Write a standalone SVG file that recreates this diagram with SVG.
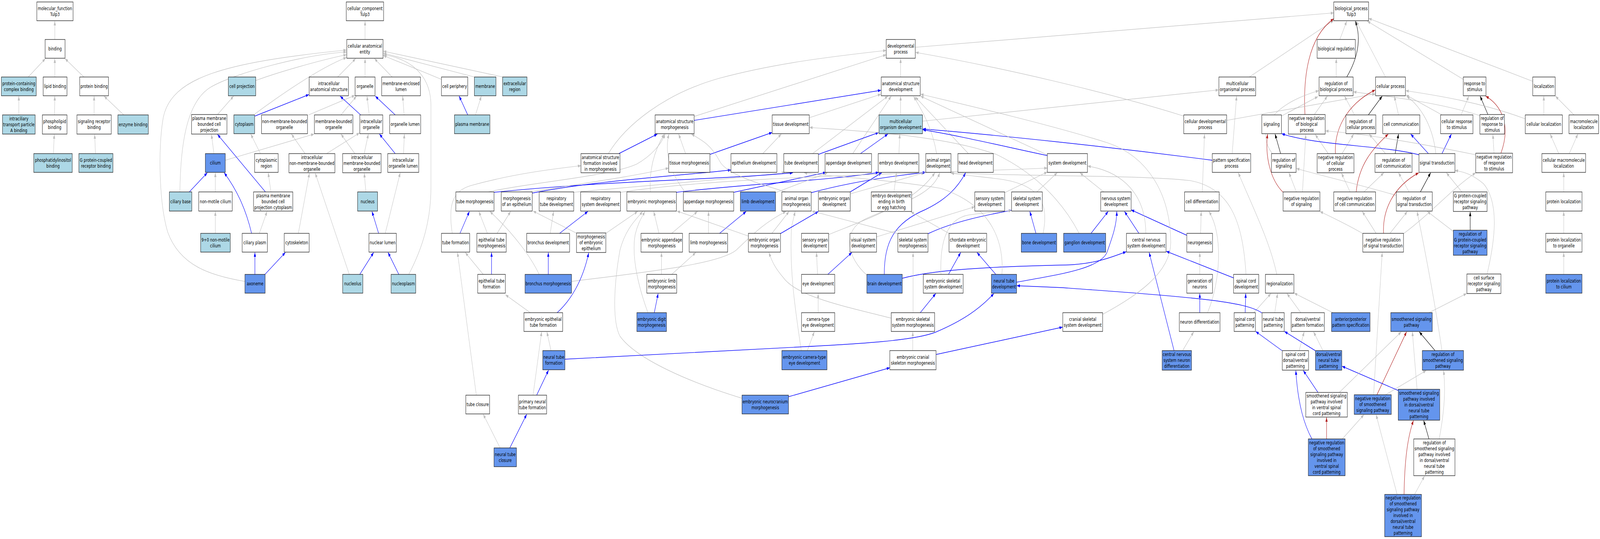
<svg xmlns="http://www.w3.org/2000/svg" width="5781" height="1379" viewBox="0 0 5781 1379" preserveAspectRatio="none">
<style>
svg{width:100vw;height:100vh;display:block}
.n rect{stroke:#1a1a1a;stroke-width:1.3}
.w{fill:#ffffff}.lb{fill:#add8e6}.cb{fill:#6495ed}
text{font-family:"DejaVu Sans","Liberation Sans",sans-serif;font-size:13px;text-anchor:middle;fill:#000}
#edges path{fill:none;stroke-width:1.2}
#edges .g{stroke:#bebebe;marker-end:url(#ag)}
#edges .b{stroke:#0000ff;stroke-width:1.4;marker-end:url(#ab)}
#edges .r{stroke:#b22222;stroke-width:1.4;marker-end:url(#ar)}
#edges .k{stroke:#000000;stroke-width:1.4;marker-end:url(#ak)}
</style>
<defs>
<marker id="ag" viewBox="0 0 11 8" refX="11" refY="4" markerWidth="11" markerHeight="8" markerUnits="userSpaceOnUse" orient="auto"><path d="M0,0L11,4L0,8z" fill="#bebebe"/></marker>
<marker id="ab" viewBox="0 0 11 8" refX="11" refY="4" markerWidth="11" markerHeight="8" markerUnits="userSpaceOnUse" orient="auto"><path d="M0,0L11,4L0,8z" fill="#0000ff"/></marker>
<marker id="ar" viewBox="0 0 11 8" refX="11" refY="4" markerWidth="11" markerHeight="8" markerUnits="userSpaceOnUse" orient="auto"><path d="M0,0L11,4L0,8z" fill="#b22222"/></marker>
<marker id="ak" viewBox="0 0 11 8" refX="11" refY="4" markerWidth="11" markerHeight="8" markerUnits="userSpaceOnUse" orient="auto"><path d="M0,0L11,4L0,8z" fill="#000000"/></marker>
</defs>
<rect x="0" y="0" width="5781" height="1379" fill="#ffffff"/>
<g id="edges">
<path class="g" d="M198,101 L198,54"/>
<path class="g" d="M102,197 L164,150"/>
<path class="g" d="M198,197 L198,150"/>
<path class="g" d="M303,197 L235,150"/>
<path class="g" d="M68,294 L68,246"/>
<path class="g" d="M197,294 L198,246"/>
<path class="g" d="M193,393 L196,344"/>
<path class="g" d="M340,294 L340,246"/>
<path class="g" d="M447,294 L376,246"/>
<path class="g" d="M345,393 L342,344"/>
<path class="g" d="M1319,101 L1319,54"/>
<path class="g" d="M1220,197 L1285,150"/>
<path class="g" d="M1319,197 L1319,150"/>
<path class="g" d="M1417,197 L1353,150"/>
<path class="g" d="M1595,203 L1385,142"/>
<path class="g" d="M1714,197 L1385,136"/>
<path class="g" d="M1817,197 L1385,131"/>
<path class="g" d="M924,206 C1000,186 1150,155 1252,140"/>
<path class="g" d="M920,292 C1000,250 1150,175 1252,147"/>
<path class="b" d="M921,297 L1116,242"/>
<path class="g" d="M650,491 C652,380 670,262 761,223 C850,186 1100,140 1252,133"/>
<path class="g" d="M885,720 C760,705 650,680 606,594 C575,520 570,380 590,300 C620,200 800,160 1252,128"/>
<path class="g" d="M1477,702 C1530,630 1557,560 1557,480 L1557,270 C1557,190 1480,150 1386,140"/>
<path class="g" d="M1115,294 L1282,244"/>
<path class="g" d="M1232,294 L1288,246"/>
<path class="g" d="M1334,294 L1326,246"/>
<path class="b" d="M1303,294 L1229,246"/>
<path class="b" d="M1428,294 L1356,246"/>
<path class="g" d="M1460,294 L1455,246"/>
<path class="b" d="M1690,294 L1659,246"/>
<path class="g" d="M1718,294 L1739,246"/>
<path class="g" d="M786,293 L844,246"/>
<path class="g" d="M773,393 L764,344"/>
<path class="g" d="M814,410 L1135,343"/>
<path class="g" d="M941,393 L906,343"/>
<path class="g" d="M1102,393 L1053,343"/>
<path class="g" d="M1180,393 L1299,340"/>
<path class="g" d="M1282,393 L1232,343"/>
<path class="g" d="M1316,393 L1331,343"/>
<path class="b" d="M1428,393 L1371,343"/>
<path class="g" d="M1458,393 L1461,343"/>
<path class="b" d="M684,491 L749,442"/>
<path class="g" d="M778,491 L778,442"/>
<path class="b" d="M959,491 L786,344"/>
<path class="g" d="M979,491 L969,442"/>
<path class="g" d="M1322,491 L1316,443"/>
<path class="g" d="M778,597 L778,541"/>
<path class="b" d="M909,597 C890,540 860,490 810,442"/>
<path class="g" d="M937,597 L965,541"/>
<path class="g" d="M1078,597 L1118,443"/>
<path class="b" d="M1368,597 L1344,541"/>
<path class="g" d="M1392,597 L1446,442"/>
<path class="b" d="M921,702 L921,646"/>
<path class="b" d="M956,703 L1031,646"/>
<path class="g" d="M1262,702 L1139,443"/>
<path class="b" d="M1300,702 L1350,646"/>
<path class="b" d="M1441,702 L1402,646"/>
<path class="g" d="M3307,121 L4819,33"/>
<path class="g" d="M4841,101 L4866,54"/>
<path class="g" d="M4514,197 L4819,52"/>
<path class="k" d="M4866,197 C4905,150 4920,100 4897,54"/>
<path class="g" d="M5006,197 L4900,54"/>
<path class="g" d="M5287,203 L4940,54"/>
<path class="g" d="M5538,208 L4945,47"/>
<path class="r" d="M4715,293 C4708,200 4725,95 4819,48"/>
<path class="g" d="M4828,197 L4828,150"/>
<path class="g" d="M4749,293 L4796,246"/>
<path class="g" d="M4630,297 L4762,247"/>
<path class="g" d="M4597,393 C4540,340 4580,270 4765,232"/>
<path class="g" d="M4894,294 L4858,246"/>
<path class="k" d="M4944,294 L4994,246"/>
<path class="g" d="M5348,296 C5200,262 5000,245 4890,235"/>
<path class="g" d="M5053,294 L5038,246"/>
<path class="g" d="M5210,294 L5080,243"/>
<path class="g" d="M5279,294 L5307,246"/>
<path class="k" d="M5376,293 L5348,246"/>
<path class="g" d="M5578,294 L5578,246"/>
<path class="g" d="M5511,304 C5350,262 5200,245 5079,232"/>
<path class="g" d="M5687,294 L5620,246"/>
<path class="g" d="M4432,308 L4969,240"/>
<path class="g" d="M4277,297 C4000,235 3600,170 3308,134"/>
<path class="g" d="M4849,393 L4891,343"/>
<path class="r" d="M4825,393 C4820,320 4880,262 4969,230"/>
<path class="g" d="M4799,393 L4752,344"/>
<path class="g" d="M5006,393 L4947,343"/>
<path class="k" d="M5041,393 L5053,343"/>
<path class="b" d="M5161,393 L5097,343"/>
<path class="b" d="M5210,393 L5244,343"/>
<path class="g" d="M5188,393 C5175,310 5120,265 5082,246"/>
<path class="b" d="M5127,396 C5000,372 4750,372 4631,342"/>
<path class="g" d="M5398,392 L5394,344"/>
<path class="r" d="M5423,392 C5460,320 5425,270 5368,246"/>
<path class="g" d="M5332,396 C5100,362 4900,340 4789,335"/>
<path class="g" d="M5632,393 L5601,343"/>
<path class="g" d="M5670,393 L5701,343"/>
<path class="k" d="M4627,393 L4607,343"/>
<path class="r" d="M4636,492 C4590,460 4570,400 4580,343"/>
<path class="g" d="M4684,491 L4657,442"/>
<path class="g" d="M4706,491 L4718,344"/>
<path class="g" d="M4928,491 L5000,442"/>
<path class="r" d="M4900,491 C4910,420 4960,380 5016,343"/>
<path class="g" d="M4878,491 L4847,443"/>
<path class="g" d="M5045,500 C4900,470 4750,445 4684,431"/>
<path class="g" d="M5091,491 L5053,442"/>
<path class="k" d="M5132,491 L5169,442"/>
<path class="g" d="M5282,491 L5226,442"/>
<path class="g" d="M4972,597 L4922,541"/>
<path class="g" d="M5022,597 L5085,541"/>
<path class="r" d="M4999,597 C4995,540 5030,480 5126,442"/>
<path class="g" d="M5071,598 C5180,540 5250,480 5332,442"/>
<path class="g" d="M4925,598 C4870,575 4810,555 4769,541"/>
<path class="k" d="M5312,589 L5312,542"/>
<path class="g" d="M5251,592 L5157,541"/>
<path class="g" d="M5650,491 L5650,442"/>
<path class="g" d="M5650,597 L5650,541"/>
<path class="g" d="M5650,702 L5650,646"/>
<path class="g" d="M5210,897 C5190,800 5160,680 5120,541"/>
<path class="g" d="M5373,701 C5400,620 5420,520 5360,470 C5320,446 5290,440 5257,436"/>
<path class="g" d="M4963,1010 L4994,646"/>
<path class="g" d="M5163,800 L5299,751"/>
<path class="k" d="M5185,897 L5128,849"/>
<path class="r" d="M4975,1010 L5082,849"/>
<path class="g" d="M5006,1010 L5153,948"/>
<path class="g" d="M5120,996 L5103,849"/>
<path class="b" d="M5052,999 L4849,937"/>
<path class="k" d="M5163,1123 L5144,1076"/>
<path class="g" d="M5200,1123 C5222,1040 5222,990 5216,948"/>
<path class="r" d="M5073,1265 C5075,1180 5085,1120 5107,1076"/>
<path class="g" d="M5111,1265 L5147,1218"/>
<path class="g" d="M5048,1265 L4972,1061"/>
<path class="g" d="M4839,1004 L5063,849"/>
<path class="b" d="M4762,1004 L4709,948"/>
<path class="r" d="M4793,1123 L4793,1068"/>
<path class="g" d="M4850,1123 L4928,1061"/>
<path class="b" d="M4740,1123 C4715,1090 4690,1040 4682,948"/>
<path class="g" d="M3333,310 L4403,230"/>
<path class="b" d="M4380,410 C4000,375 3600,345 3334,330"/>
<path class="g" d="M4452,393 L4468,246"/>
<path class="g" d="M4613,702 C4590,620 4520,520 4474,442"/>
<path class="g" d="M4344,491 L4352,343"/>
<path class="g" d="M3988,491 L3902,442"/>
<path class="b" d="M3942,597 L4004,541"/>
<path class="b" d="M4115,597 L4063,541"/>
<path class="b" d="M4288,602 L4087,537"/>
<path class="b" d="M3673,722 C3800,705 3975,690 4000,645 C4020,605 4035,575 4035,541"/>
<path class="b" d="M3260,712 C3350,695 3500,683 3850,678 C3950,676 4010,660 4069,644"/>
<path class="g" d="M4140,597 C4140,500 4060,440 3930,425"/>
<path class="g" d="M4338,597 L4340,541"/>
<path class="g" d="M4363,800 C4410,720 4420,600 4368,541"/>
<path class="g" d="M4335,702 L4335,646"/>
<path class="b" d="M4335,800 L4335,751"/>
<path class="b" d="M4457,711 L4214,643"/>
<path class="g" d="M4502,702 C4490,560 4440,480 4300,462 C4100,447 3700,452 3433,442"/>
<path class="g" d="M4273,897 L4313,849"/>
<path class="b" d="M4242,897 L4152,646"/>
<path class="b" d="M4499,800 L4501,751"/>
<path class="g" d="M4530,800 L4592,751"/>
<path class="g" d="M4606,800 L4616,751"/>
<path class="b" d="M4560,801 C4500,770 4300,760 3840,736 L3674,731"/>
<path class="g" d="M4700,800 L4650,751"/>
<path class="g" d="M4816,800 L4676,750"/>
<path class="b" d="M4632,897 L4537,848"/>
<path class="g" d="M4694,897 L4712,849"/>
<path class="b" d="M4752,897 L4641,848"/>
<path class="g" d="M4780,897 L4746,849"/>
<path class="b" d="M3382,907 L3839,837"/>
<path class="g" d="M3982,805 C4100,760 4230,700 4230,620 C4230,500 4150,400 4000,365 C3800,320 3500,270 3326,241"/>
<path class="g" d="M3254,197 L3254,150"/>
<path class="g" d="M2508,298 L3202,140"/>
<path class="g" d="M2198,393 C2260,320 2400,240 2600,200 C2800,162 3000,145 3202,129"/>
<path class="b" d="M2508,308 L3183,231"/>
<path class="g" d="M2925,301 L3183,241"/>
<path class="g" d="M2936,393 L3208,246"/>
<path class="g" d="M3081,393 L3220,246"/>
<path class="g" d="M3254,294 L3254,246"/>
<path class="g" d="M3384,393 C3370,330 3330,280 3301,247"/>
<path class="g" d="M3499,393 L3307,248"/>
<path class="g" d="M3783,396 L3326,246"/>
<path class="b" d="M2957,395 L3175,339"/>
<path class="b" d="M3109,393 L3208,343"/>
<path class="g" d="M3248,393 L3251,343"/>
<path class="b" d="M3784,398 C3600,370 3450,345 3334,332"/>
<path class="g" d="M3899,597 C3850,530 3760,450 3600,395 C3400,345 3100,335 2925,326"/>
<path class="b" d="M3072,491 L3186,442"/>
<path class="g" d="M3072,496 L3340,442"/>
<path class="b" d="M2931,493 C3050,470 3200,452 3345,441"/>
<path class="b" d="M2444,492 C2700,470 3000,462 3175,441"/>
<path class="b" d="M2651,492 C2800,470 2900,455 2985,441"/>
<path class="g" d="M2802,493 L2990,442"/>
<path class="g" d="M3230,491 L3239,442"/>
<path class="g" d="M2995,600 C3150,555 3300,520 3378,442"/>
<path class="g" d="M3630,493 L3784,440"/>
<path class="g" d="M3746,491 L3820,442"/>
<path class="g" d="M2242,492 C2600,452 3300,445 3784,430"/>
<path class="b" d="M3195,702 C3195,620 3230,570 3344,536 C3420,510 3460,480 3489,442"/>
<path class="g" d="M3134,705 C3060,660 3040,590 3127,560 C3250,520 3370,500 3395,442"/>
<path class="g" d="M3167,606 L3522,529"/>
<path class="b" d="M3353,598 C3450,565 3580,548 3655,538"/>
<path class="b" d="M3743,597 L3721,541"/>
<path class="g" d="M3769,597 C3790,520 3760,470 3600,457 C3530,451 3480,448 3436,443"/>
<path class="g" d="M3431,598 L3291,542"/>
<path class="b" d="M3427,702 L3471,646"/>
<path class="b" d="M3598,702 L3530,646"/>
<path class="g" d="M3400,702 C3395,620 3420,560 3500,550 C3560,544 3610,541 3655,539"/>
<path class="g" d="M3620,702 C3630,600 3560,520 3400,482 C3200,458 3000,452 2905,442"/>
<path class="g" d="M2954,702 L2950,646"/>
<path class="b" d="M2991,702 L3078,646"/>
<path class="g" d="M2956,800 L2956,751"/>
<path class="g" d="M2917,897 L2942,849"/>
<path class="g" d="M2895,897 C2880,820 2850,700 2860,580 L2873,541"/>
<path class="b" d="M3325,800 L3381,751"/>
<path class="g" d="M3299,800 L3299,646"/>
<path class="g" d="M3220,814 C3060,785 2880,760 2830,710 C2800,685 2790,670 2778,646"/>
<path class="g" d="M3298,897 L3298,849"/>
<path class="b" d="M2849,1015 L3215,941"/>
<path class="g" d="M2681,1019 C2500,980 2300,920 2240,860 C2210,820 2220,720 2240,640 C2260,585 2300,560 2322,541"/>
<path class="b" d="M2364,800 L2378,751"/>
<path class="g" d="M2341,800 C2310,740 2280,660 2295,600 C2305,570 2320,555 2330,541"/>
<path class="g" d="M2390,702 L2390,646"/>
<path class="g" d="M2427,702 L2514,646"/>
<path class="g" d="M2065,720 C2350,695 2600,675 2660,640 C2720,600 2760,570 2840,541"/>
<path class="g" d="M1948,702 C1920,660 1860,600 1770,541"/>
<path class="b" d="M1981,702 L1981,646"/>
<path class="g" d="M2084,597 L1926,540"/>
<path class="g" d="M2189,597 L2304,541"/>
<path class="g" d="M2427,597 L2520,541"/>
<path class="g" d="M2381,597 L2362,541"/>
<path class="g" d="M2560,597 L2560,541"/>
<path class="b" d="M2600,597 L2696,541"/>
<path class="g" d="M2789,597 L2851,541"/>
<path class="g" d="M2704,604 L2446,540"/>
<path class="b" d="M2819,598 L2957,541"/>
<path class="g" d="M3245,598 L2933,540"/>
<path class="g" d="M2073,492 C2400,470 2700,455 2836,441"/>
<path class="b" d="M1785,492 C2200,462 2600,460 2865,442"/>
<path class="g" d="M1765,491 C1900,468 2200,452 2300,420 C2350,400 2390,370 2403,343"/>
<path class="g" d="M1915,491 C2100,470 2300,450 2416,430"/>
<path class="b" d="M1923,494 C2150,462 2450,450 2641,435"/>
<path class="g" d="M2477,393 L2452,343"/>
<path class="b" d="M2565,395 L2790,339"/>
<path class="g" d="M2756,393 L2823,343"/>
<path class="b" d="M2236,393 L2375,343"/>
<path class="g" d="M2350,491 C2345,440 2360,390 2400,343"/>
<path class="g" d="M2475,491 C2420,440 2400,390 2417,343"/>
<path class="g" d="M2840,491 C2700,462 2620,440 2600,412 C2570,372 2540,360 2498,343"/>
<path class="b" d="M1662,597 L1696,541"/>
<path class="g" d="M1634,597 C1620,530 1630,490 1700,475 C1850,445 2000,432 2099,424"/>
<path class="g" d="M1761,597 L1730,541"/>
<path class="g" d="M1796,597 L1845,541"/>
<path class="g" d="M1988,597 L2000,541"/>
<path class="b" d="M2022,597 L2124,541"/>
<path class="g" d="M1746,702 L1681,646"/>
<path class="b" d="M1776,702 L1776,646"/>
<path class="g" d="M1721,1011 L1653,646"/>
<path class="g" d="M1916,800 L1826,754"/>
<path class="b" d="M2013,800 C2060,770 2105,720 2127,647"/>
<path class="g" d="M1991,897 L1976,849"/>
<path class="b" d="M2041,919 L2880,888 C3100,880 3300,872 3380,850 C3480,820 3540,790 3591,751"/>
<path class="b" d="M1939,1011 L1982,947"/>
<path class="g" d="M1926,1011 L1957,849"/>
<path class="g" d="M1807,1146 L1746,1060"/>
<path class="b" d="M1842,1146 L1903,1060"/>
</g>
<g id="n-mf" class="n"><rect class="w" x="133" y="5" width="131" height="48"/><text><tspan x="198.5" y="26">molecular_function</tspan><tspan x="198.5" y="41">Tulp3</tspan></text></g>
<g id="n-binding" class="n"><rect class="w" x="163" y="101" width="72" height="48"/><text x="199" y="129.5">binding</text></g>
<g id="n-pcb" class="n"><rect class="lb" x="5" y="197" width="126" height="48"/><text><tspan x="68" y="218">protein-containing</tspan><tspan x="68" y="233">complex binding</tspan></text></g>
<g id="n-lipid" class="n"><rect class="w" x="156" y="197" width="86" height="48"/><text x="199" y="225.5">lipid binding</text></g>
<g id="n-protbind" class="n"><rect class="w" x="288" y="197" width="104" height="48"/><text x="340" y="225.5">protein binding</text></g>
<g id="n-itpa" class="n"><rect class="lb" x="9" y="294" width="118" height="49"/><text><tspan x="68" y="308">intraciliary</tspan><tspan x="68" y="323">transport particle</tspan><tspan x="68" y="338">A binding</tspan></text></g>
<g id="n-phospholipid" class="n"><rect class="w" x="153" y="294" width="89" height="49"/><text><tspan x="197.5" y="315.5">phospholipid</tspan><tspan x="197.5" y="330.5">binding</tspan></text></g>
<g id="n-srb" class="n"><rect class="w" x="278" y="294" width="124" height="49"/><text><tspan x="340" y="315.5">signaling receptor</tspan><tspan x="340" y="330.5">binding</tspan></text></g>
<g id="n-enzyme" class="n"><rect class="lb" x="426" y="294" width="110" height="49"/><text x="481" y="323">enzyme binding</text></g>
<g id="n-pib" class="n"><rect class="lb" x="122" y="393" width="139" height="48"/><text><tspan x="191.5" y="414">phosphatidylinositol</tspan><tspan x="191.5" y="429">binding</tspan></text></g>
<g id="n-gpcrb" class="n"><rect class="lb" x="285" y="393" width="123" height="48"/><text><tspan x="346.5" y="414">G protein-coupled</tspan><tspan x="346.5" y="429">receptor binding</tspan></text></g>
<g id="n-cc" class="n"><rect class="w" x="1251" y="5" width="135" height="48"/><text><tspan x="1318.5" y="26">cellular_component</tspan><tspan x="1318.5" y="41">Tulp3</tspan></text></g>
<g id="n-cae" class="n"><rect class="w" x="1253" y="101" width="131" height="48"/><text><tspan x="1318.5" y="122">cellular anatomical</tspan><tspan x="1318.5" y="137">entity</tspan></text></g>
<g id="n-cellproj" class="n"><rect class="lb" x="825" y="197" width="99" height="48"/><text x="874.5" y="225.5">cell projection</text></g>
<g id="n-ias" class="n"><rect class="w" x="1117" y="197" width="142" height="48"/><text><tspan x="1188" y="218">intracellular</tspan><tspan x="1188" y="233">anatomical structure</tspan></text></g>
<g id="n-organelle" class="n"><rect class="w" x="1283" y="197" width="72" height="48"/><text x="1319" y="225.5">organelle</text></g>
<g id="n-mel" class="n"><rect class="w" x="1379" y="197" width="140" height="48"/><text><tspan x="1449" y="218">membrane-enclosed</tspan><tspan x="1449" y="233">lumen</tspan></text></g>
<g id="n-cellper" class="n"><rect class="w" x="1595" y="197" width="95" height="48"/><text x="1642.5" y="225.5">cell periphery</text></g>
<g id="n-membrane" class="n"><rect class="lb" x="1714" y="197" width="78" height="48"/><text x="1753" y="225.5">membrane</text></g>
<g id="n-extracell" class="n"><rect class="lb" x="1816" y="197" width="88" height="48"/><text><tspan x="1860" y="218">extracellular</tspan><tspan x="1860" y="233">region</tspan></text></g>
<g id="n-pmbcp" class="n"><rect class="w" x="692" y="293" width="128" height="50"/><text><tspan x="756" y="307">plasma membrane</tspan><tspan x="756" y="322">bounded cell</tspan><tspan x="756" y="337">projection</tspan></text></g>
<g id="n-cytoplasm" class="n"><rect class="lb" x="845" y="294" width="75" height="48"/><text x="882.5" y="322.5">cytoplasm</text></g>
<g id="n-nmbo" class="n"><rect class="w" x="945" y="294" width="166" height="48"/><text><tspan x="1028" y="315">non-membrane-bounded</tspan><tspan x="1028" y="330">organelle</tspan></text></g>
<g id="n-mbo" class="n"><rect class="w" x="1136" y="294" width="139" height="48"/><text><tspan x="1205.5" y="315">membrane-bounded</tspan><tspan x="1205.5" y="330">organelle</tspan></text></g>
<g id="n-intorg" class="n"><rect class="w" x="1300" y="294" width="83" height="48"/><text><tspan x="1341.5" y="315">intracellular</tspan><tspan x="1341.5" y="330">organelle</tspan></text></g>
<g id="n-orglumen" class="n"><rect class="w" x="1408" y="294" width="112" height="48"/><text x="1464" y="322.5">organelle lumen</text></g>
<g id="n-pm" class="n"><rect class="lb" x="1642" y="294" width="128" height="48"/><text x="1706" y="322.5">plasma membrane</text></g>
<g id="n-cilium" class="n"><rect class="cb" x="742" y="393" width="72" height="48"/><text x="778" y="421.5">cilium</text></g>
<g id="n-cytoreg" class="n"><rect class="w" x="920" y="393" width="85" height="48"/><text><tspan x="962.5" y="414">cytoplasmic</tspan><tspan x="962.5" y="429">region</tspan></text></g>
<g id="n-inmbo" class="n"><rect class="w" x="1044" y="393" width="166" height="49"/><text><tspan x="1127" y="407">intracellular</tspan><tspan x="1127" y="422">non-membrane-bounded</tspan><tspan x="1127" y="437">organelle</tspan></text></g>
<g id="n-imbo" class="n"><rect class="w" x="1238" y="393" width="139" height="49"/><text><tspan x="1307.5" y="407">intracellular</tspan><tspan x="1307.5" y="422">membrane-bounded</tspan><tspan x="1307.5" y="437">organelle</tspan></text></g>
<g id="n-iol" class="n"><rect class="w" x="1401" y="393" width="112" height="48"/><text><tspan x="1457" y="414">intracellular</tspan><tspan x="1457" y="429">organelle lumen</tspan></text></g>
<g id="n-ciliarybase" class="n"><rect class="lb" x="612" y="491" width="81" height="49"/><text x="652.5" y="520">ciliary base</text></g>
<g id="n-nonmotile" class="n"><rect class="w" x="718" y="491" width="121" height="49"/><text x="778.5" y="520">non-motile cilium</text></g>
<g id="n-pmbcpc" class="n"><rect class="w" x="916" y="491" width="142" height="49"/><text><tspan x="987" y="505">plasma membrane</tspan><tspan x="987" y="520">bounded cell</tspan><tspan x="987" y="535">projection cytoplasm</tspan></text></g>
<g id="n-nucleus" class="n"><rect class="lb" x="1292" y="491" width="72" height="49"/><text x="1328" y="520">nucleus</text></g>
<g id="n-ninezero" class="n"><rect class="lb" x="725" y="597" width="107" height="48"/><text><tspan x="778.5" y="618">9+0 non-motile</tspan><tspan x="778.5" y="633">cilium</tspan></text></g>
<g id="n-ciliaryplasm" class="n"><rect class="w" x="875" y="597" width="91" height="48"/><text x="920.5" y="625.5">ciliary plasm</text></g>
<g id="n-cytoskeleton" class="n"><rect class="w" x="1027" y="597" width="90" height="48"/><text x="1072" y="625.5">cytoskeleton</text></g>
<g id="n-nuclearlumen" class="n"><rect class="w" x="1333" y="597" width="99" height="48"/><text x="1382.5" y="625.5">nuclear lumen</text></g>
<g id="n-axoneme" class="n"><rect class="cb" x="885" y="702" width="73" height="48"/><text x="921.5" y="730.5">axoneme</text></g>
<g id="n-nucleolus" class="n"><rect class="lb" x="1238" y="702" width="73" height="48"/><text x="1274.5" y="730.5">nucleolus</text></g>
<g id="n-nucleoplasm" class="n"><rect class="lb" x="1413" y="702" width="89" height="48"/><text x="1457.5" y="730.5">nucleoplasm</text></g>
<g id="n-bp" class="n"><rect class="w" x="4819" y="5" width="126" height="48"/><text><tspan x="4882" y="26">biological_process</tspan><tspan x="4882" y="41">Tulp3</tspan></text></g>
<g id="n-devproc" class="n"><rect class="w" x="3202" y="101" width="105" height="48"/><text><tspan x="3254.5" y="122">developmental</tspan><tspan x="3254.5" y="137">process</tspan></text></g>
<g id="n-bioreg" class="n"><rect class="w" x="4759" y="101" width="138" height="48"/><text x="4828" y="129.5">biological regulation</text></g>
<g id="n-asd" class="n"><rect class="w" x="3184" y="197" width="141" height="48"/><text><tspan x="3254.5" y="218">anatomical structure</tspan><tspan x="3254.5" y="233">development</tspan></text></g>
<g id="n-mop" class="n"><rect class="w" x="4404" y="197" width="133" height="48"/><text><tspan x="4470.5" y="218">multicellular</tspan><tspan x="4470.5" y="233">organismal process</tspan></text></g>
<g id="n-rbp" class="n"><rect class="w" x="4766" y="197" width="123" height="48"/><text><tspan x="4827.5" y="218">regulation of</tspan><tspan x="4827.5" y="233">biological process</tspan></text></g>
<g id="n-cellproc" class="n"><rect class="w" x="4970" y="197" width="108" height="48"/><text x="5024" y="225.5">cellular process</text></g>
<g id="n-resp" class="n"><rect class="w" x="5287" y="197" width="82" height="48"/><text><tspan x="5328" y="218">response to</tspan><tspan x="5328" y="233">stimulus</tspan></text></g>
<g id="n-loc" class="n"><rect class="w" x="5538" y="197" width="81" height="48"/><text x="5578.5" y="225.5">localization</text></g>
<g id="n-asm" class="n"><rect class="w" x="2367" y="294" width="141" height="48"/><text><tspan x="2437.5" y="315">anatomical structure</tspan><tspan x="2437.5" y="330">morphogenesis</tspan></text></g>
<g id="n-tissuedev" class="n"><rect class="w" x="2790" y="294" width="134" height="48"/><text x="2857" y="322.5">tissue development</text></g>
<g id="n-mod" class="n"><rect class="lb" x="3176" y="294" width="157" height="48"/><text><tspan x="3254.5" y="315">multicellular</tspan><tspan x="3254.5" y="330">organism development</tspan></text></g>
<g id="n-cdp" class="n"><rect class="w" x="4277" y="294" width="155" height="48"/><text><tspan x="4354.5" y="315">cellular developmental</tspan><tspan x="4354.5" y="330">process</tspan></text></g>
<g id="n-signaling" class="n"><rect class="w" x="4559" y="294" width="71" height="48"/><text x="4594.5" y="322.5">signaling</text></g>
<g id="n-nrbp" class="n"><rect class="w" x="4655" y="293" width="133" height="50"/><text><tspan x="4721.5" y="307">negative regulation</tspan><tspan x="4721.5" y="322">of biological</tspan><tspan x="4721.5" y="337">process</tspan></text></g>
<g id="n-rcp" class="n"><rect class="w" x="4863" y="294" width="108" height="48"/><text><tspan x="4917" y="315">regulation of</tspan><tspan x="4917" y="330">cellular process</tspan></text></g>
<g id="n-cellcomm" class="n"><rect class="w" x="4996" y="294" width="134" height="48"/><text x="5063" y="322.5">cell communication</text></g>
<g id="n-crs" class="n"><rect class="w" x="5205" y="294" width="117" height="48"/><text><tspan x="5263.5" y="315">cellular response</tspan><tspan x="5263.5" y="330">to stimulus</tspan></text></g>
<g id="n-rrs" class="n"><rect class="w" x="5347" y="293" width="89" height="50"/><text><tspan x="5391.5" y="307">regulation of</tspan><tspan x="5391.5" y="322">response to</tspan><tspan x="5391.5" y="337">stimulus</tspan></text></g>
<g id="n-cellloc" class="n"><rect class="w" x="5511" y="294" width="134" height="48"/><text x="5578" y="322.5">cellular localization</text></g>
<g id="n-macroloc" class="n"><rect class="w" x="5669" y="294" width="107" height="48"/><text><tspan x="5722.5" y="315">macromolecule</tspan><tspan x="5722.5" y="330">localization</tspan></text></g>
<g id="n-asfim" class="n"><rect class="w" x="2099" y="393" width="141" height="49"/><text><tspan x="2169.5" y="407">anatomical structure</tspan><tspan x="2169.5" y="422">formation involved</tspan><tspan x="2169.5" y="437">in morphogenesis</tspan></text></g>
<g id="n-tissuemorph" class="n"><rect class="w" x="2416" y="393" width="149" height="48"/><text x="2490.5" y="421.5">tissue morphogenesis</text></g>
<g id="n-epidev" class="n"><rect class="w" x="2641" y="393" width="166" height="48"/><text x="2724" y="421.5">epithelium development</text></g>
<g id="n-tubedev" class="n"><rect class="w" x="2832" y="393" width="125" height="48"/><text x="2894.5" y="421.5">tube development</text></g>
<g id="n-appdev" class="n"><rect class="w" x="2981" y="393" width="168" height="48"/><text x="3065" y="421.5">appendage development</text></g>
<g id="n-embryodev" class="n"><rect class="w" x="3173" y="393" width="147" height="48"/><text x="3246.5" y="421.5">embryo development</text></g>
<g id="n-aod" class="n"><rect class="w" x="3345" y="393" width="91" height="48"/><text><tspan x="3390.5" y="414">animal organ</tspan><tspan x="3390.5" y="429">development</tspan></text></g>
<g id="n-headdev" class="n"><rect class="w" x="3461" y="393" width="128" height="48"/><text x="3525" y="421.5">head development</text></g>
<g id="n-sysdev" class="n"><rect class="w" x="3784" y="393" width="145" height="48"/><text x="3856.5" y="421.5">system development</text></g>
<g id="n-psp" class="n"><rect class="w" x="4380" y="393" width="139" height="48"/><text><tspan x="4449.5" y="414">pattern specification</tspan><tspan x="4449.5" y="429">process</tspan></text></g>
<g id="n-regsig" class="n"><rect class="w" x="4594" y="393" width="89" height="48"/><text><tspan x="4638.5" y="414">regulation of</tspan><tspan x="4638.5" y="429">signaling</tspan></text></g>
<g id="n-nrcp" class="n"><rect class="w" x="4759" y="393" width="133" height="49"/><text><tspan x="4825.5" y="407">negative regulation</tspan><tspan x="4825.5" y="422">of cellular</tspan><tspan x="4825.5" y="437">process</tspan></text></g>
<g id="n-rcc" class="n"><rect class="w" x="4968" y="393" width="134" height="48"/><text><tspan x="5035" y="414">regulation of</tspan><tspan x="5035" y="429">cell communication</tspan></text></g>
<g id="n-st" class="n"><rect class="w" x="5127" y="393" width="130" height="48"/><text x="5192" y="421.5">signal transduction</text></g>
<g id="n-nrrs" class="n"><rect class="w" x="5332" y="392" width="133" height="50"/><text><tspan x="5398.5" y="406">negative regulation</tspan><tspan x="5398.5" y="421">of response</tspan><tspan x="5398.5" y="436">to stimulus</tspan></text></g>
<g id="n-cml" class="n"><rect class="w" x="5571" y="393" width="158" height="48"/><text><tspan x="5650" y="414">cellular macromolecule</tspan><tspan x="5650" y="429">localization</tspan></text></g>
<g id="n-tubemorph" class="n"><rect class="w" x="1647" y="491" width="138" height="49"/><text x="1716" y="520">tube morphogenesis</text></g>
<g id="n-moae" class="n"><rect class="w" x="1811" y="491" width="112" height="49"/><text><tspan x="1867" y="512.5">morphogenesis</tspan><tspan x="1867" y="527.5">of an epithelium</tspan></text></g>
<g id="n-rtd" class="n"><rect class="w" x="1948" y="491" width="125" height="49"/><text><tspan x="2010.5" y="512.5">respiratory</tspan><tspan x="2010.5" y="527.5">tube development</tspan></text></g>
<g id="n-rsd" class="n"><rect class="w" x="2098" y="491" width="144" height="49"/><text><tspan x="2170" y="512.5">respiratory</tspan><tspan x="2170" y="527.5">system development</tspan></text></g>
<g id="n-embmorph" class="n"><rect class="w" x="2265" y="491" width="179" height="49"/><text x="2354.5" y="520">embryonic morphogenesis</text></g>
<g id="n-appmorph" class="n"><rect class="w" x="2469" y="491" width="182" height="49"/><text x="2560" y="520">appendage morphogenesis</text></g>
<g id="n-limbdev" class="n"><rect class="cb" x="2675" y="491" width="127" height="49"/><text x="2738.5" y="520">limb development</text></g>
<g id="n-aom" class="n"><rect class="w" x="2825" y="491" width="106" height="49"/><text><tspan x="2878" y="512.5">animal organ</tspan><tspan x="2878" y="527.5">morphogenesis</tspan></text></g>
<g id="n-eod" class="n"><rect class="w" x="2957" y="491" width="115" height="49"/><text><tspan x="3014.5" y="512.5">embryonic organ</tspan><tspan x="3014.5" y="527.5">development</tspan></text></g>
<g id="n-edebeh" class="n"><rect class="w" x="3148" y="491" width="146" height="50"/><text><tspan x="3221" y="505.5">embryo development</tspan><tspan x="3221" y="520.5">ending in birth</tspan><tspan x="3221" y="535.5">or egg hatching</tspan></text></g>
<g id="n-ssd" class="n"><rect class="w" x="3522" y="491" width="108" height="49"/><text><tspan x="3576" y="512.5">sensory system</tspan><tspan x="3576" y="527.5">development</tspan></text></g>
<g id="n-skeldev" class="n"><rect class="w" x="3655" y="491" width="111" height="49"/><text><tspan x="3710.5" y="512.5">skeletal system</tspan><tspan x="3710.5" y="527.5">development</tspan></text></g>
<g id="n-nsd" class="n"><rect class="w" x="3977" y="491" width="110" height="49"/><text><tspan x="4032" y="512.5">nervous system</tspan><tspan x="4032" y="527.5">development</tspan></text></g>
<g id="n-celldiff" class="n"><rect class="w" x="4280" y="491" width="125" height="49"/><text x="4342.5" y="520">cell differentiation</text></g>
<g id="n-nrs" class="n"><rect class="w" x="4636" y="491" width="133" height="49"/><text><tspan x="4702.5" y="512.5">negative regulation</tspan><tspan x="4702.5" y="527.5">of signaling</tspan></text></g>
<g id="n-nrcc" class="n"><rect class="w" x="4819" y="491" width="151" height="49"/><text><tspan x="4894.5" y="512.5">negative regulation</tspan><tspan x="4894.5" y="527.5">of cell communication</tspan></text></g>
<g id="n-rst" class="n"><rect class="w" x="5045" y="491" width="130" height="49"/><text><tspan x="5110" y="512.5">regulation of</tspan><tspan x="5110" y="527.5">signal transduction</tspan></text></g>
<g id="n-gpcr" class="n"><rect class="w" x="5251" y="491" width="122" height="50"/><text><tspan x="5312" y="505.5">G protein-coupled</tspan><tspan x="5312" y="520.5">receptor signaling</tspan><tspan x="5312" y="535.5">pathway</tspan></text></g>
<g id="n-protloc" class="n"><rect class="w" x="5585" y="491" width="131" height="49"/><text x="5650.5" y="520">protein localization</text></g>
<g id="n-tubeform" class="n"><rect class="w" x="1595" y="597" width="102" height="48"/><text x="1646" y="625.5">tube formation</text></g>
<g id="n-etm" class="n"><rect class="w" x="1723" y="597" width="106" height="48"/><text><tspan x="1776" y="618">epithelial tube</tspan><tspan x="1776" y="633">morphogenesis</tspan></text></g>
<g id="n-bronchdev" class="n"><rect class="w" x="1903" y="597" width="155" height="48"/><text x="1980.5" y="625.5">bronchus development</text></g>
<g id="n-moee" class="n"><rect class="w" x="2083" y="596" width="106" height="50"/><text><tspan x="2136" y="610">morphogenesis</tspan><tspan x="2136" y="625">of embryonic</tspan><tspan x="2136" y="640">epithelium</tspan></text></g>
<g id="n-eam" class="n"><rect class="w" x="2316" y="597" width="150" height="48"/><text><tspan x="2391" y="618">embryonic appendage</tspan><tspan x="2391" y="633">morphogenesis</tspan></text></g>
<g id="n-limbmorph" class="n"><rect class="w" x="2490" y="597" width="139" height="48"/><text x="2559.5" y="625.5">limb morphogenesis</text></g>
<g id="n-eom" class="n"><rect class="w" x="2704" y="597" width="116" height="48"/><text><tspan x="2762" y="618">embryonic organ</tspan><tspan x="2762" y="633">morphogenesis</tspan></text></g>
<g id="n-sod" class="n"><rect class="w" x="2896" y="597" width="98" height="48"/><text><tspan x="2945" y="618">sensory organ</tspan><tspan x="2945" y="633">development</tspan></text></g>
<g id="n-vsd" class="n"><rect class="w" x="3071" y="597" width="96" height="48"/><text><tspan x="3119" y="618">visual system</tspan><tspan x="3119" y="633">development</tspan></text></g>
<g id="n-ssm" class="n"><rect class="w" x="3244" y="597" width="109" height="48"/><text><tspan x="3298.5" y="618">skeletal system</tspan><tspan x="3298.5" y="633">morphogenesis</tspan></text></g>
<g id="n-ced" class="n"><rect class="w" x="3429" y="597" width="136" height="48"/><text><tspan x="3497" y="618">chordate embryonic</tspan><tspan x="3497" y="633">development</tspan></text></g>
<g id="n-bonedev" class="n"><rect class="cb" x="3690" y="597" width="128" height="48"/><text x="3754" y="625.5">bone development</text></g>
<g id="n-gangdev" class="n"><rect class="cb" x="3843" y="597" width="152" height="48"/><text x="3919" y="625.5">ganglion development</text></g>
<g id="n-cnsd" class="n"><rect class="w" x="4070" y="597" width="143" height="48"/><text><tspan x="4141.5" y="618">central nervous</tspan><tspan x="4141.5" y="633">system development</tspan></text></g>
<g id="n-neurogenesis" class="n"><rect class="w" x="4288" y="597" width="93" height="48"/><text x="4334.5" y="625.5">neurogenesis</text></g>
<g id="n-nrst" class="n"><rect class="w" x="4924" y="597" width="147" height="48"/><text><tspan x="4997.5" y="618">negative regulation</tspan><tspan x="4997.5" y="633">of signal transduction</tspan></text></g>
<g id="n-rgpcr" class="n"><rect class="cb" x="5251" y="589" width="122" height="64"/><text><tspan x="5312" y="603">regulation of</tspan><tspan x="5312" y="618">G protein-coupled</tspan><tspan x="5312" y="633">receptor signaling</tspan><tspan x="5312" y="648">pathway</tspan></text></g>
<g id="n-plo" class="n"><rect class="w" x="5585" y="597" width="131" height="48"/><text><tspan x="5650.5" y="618">protein localization</tspan><tspan x="5650.5" y="633">to organelle</tspan></text></g>
<g id="n-etf" class="n"><rect class="w" x="1726" y="702" width="100" height="48"/><text><tspan x="1776" y="723">epithelial tube</tspan><tspan x="1776" y="738">formation</tspan></text></g>
<g id="n-bronchmorph" class="n"><rect class="cb" x="1897" y="702" width="168" height="48"/><text x="1981" y="730.5">bronchus morphogenesis</text></g>
<g id="n-elm" class="n"><rect class="w" x="2337" y="702" width="108" height="48"/><text><tspan x="2391" y="723">embryonic limb</tspan><tspan x="2391" y="738">morphogenesis</tspan></text></g>
<g id="n-eyedev" class="n"><rect class="w" x="2896" y="702" width="120" height="48"/><text x="2956" y="730.5">eye development</text></g>
<g id="n-braindev" class="n"><rect class="cb" x="3132" y="702" width="128" height="48"/><text x="3196" y="730.5">brain development</text></g>
<g id="n-essd" class="n"><rect class="w" x="3336" y="702" width="144" height="48"/><text><tspan x="3408" y="723">embryonic skeletal</tspan><tspan x="3408" y="738">system development</tspan></text></g>
<g id="n-ntd" class="n"><rect class="cb" x="3582" y="702" width="91" height="48"/><text><tspan x="3627.5" y="723">neural tube</tspan><tspan x="3627.5" y="738">development</tspan></text></g>
<g id="n-gon" class="n"><rect class="w" x="4288" y="702" width="93" height="48"/><text><tspan x="4334.5" y="723">generation of</tspan><tspan x="4334.5" y="738">neurons</tspan></text></g>
<g id="n-scd" class="n"><rect class="w" x="4457" y="702" width="91" height="48"/><text><tspan x="4502.5" y="723">spinal cord</tspan><tspan x="4502.5" y="738">development</tspan></text></g>
<g id="n-regionalization" class="n"><rect class="w" x="4572" y="702" width="103" height="48"/><text x="4623.5" y="730.5">regionalization</text></g>
<g id="n-csrsp" class="n"><rect class="w" x="5300" y="701" width="123" height="50"/><text><tspan x="5361.5" y="715">cell surface</tspan><tspan x="5361.5" y="730">receptor signaling</tspan><tspan x="5361.5" y="745">pathway</tspan></text></g>
<g id="n-plc" class="n"><rect class="cb" x="5585" y="702" width="131" height="48"/><text><tspan x="5650.5" y="723">protein localization</tspan><tspan x="5650.5" y="738">to cilium</tspan></text></g>
<g id="n-eete" class="n"><rect class="w" x="1893" y="800" width="140" height="48"/><text><tspan x="1963" y="821">embryonic epithelial</tspan><tspan x="1963" y="836">tube formation</tspan></text></g>
<g id="n-edm" class="n"><rect class="cb" x="2301" y="800" width="107" height="48"/><text><tspan x="2354.5" y="821">embryonic digit</tspan><tspan x="2354.5" y="836">morphogenesis</tspan></text></g>
<g id="n-cted" class="n"><rect class="w" x="2896" y="800" width="120" height="48"/><text><tspan x="2956" y="821">camera-type</tspan><tspan x="2956" y="836">eye development</tspan></text></g>
<g id="n-essm" class="n"><rect class="w" x="3220" y="800" width="157" height="48"/><text><tspan x="3298.5" y="821">embryonic skeletal</tspan><tspan x="3298.5" y="836">system morphogenesis</tspan></text></g>
<g id="n-cssd" class="n"><rect class="w" x="3840" y="800" width="144" height="48"/><text><tspan x="3912" y="821">cranial skeletal</tspan><tspan x="3912" y="836">system development</tspan></text></g>
<g id="n-neurondiff" class="n"><rect class="w" x="4261" y="800" width="147" height="48"/><text x="4334.5" y="828.5">neuron differentiation</text></g>
<g id="n-scp" class="n"><rect class="w" x="4459" y="800" width="77" height="48"/><text><tspan x="4497.5" y="821">spinal cord</tspan><tspan x="4497.5" y="836">patterning</tspan></text></g>
<g id="n-ntp" class="n"><rect class="w" x="4560" y="800" width="80" height="48"/><text><tspan x="4600" y="821">neural tube</tspan><tspan x="4600" y="836">patterning</tspan></text></g>
<g id="n-dvpf" class="n"><rect class="w" x="4665" y="800" width="120" height="48"/><text><tspan x="4725" y="821">dorsal/ventral</tspan><tspan x="4725" y="836">pattern formation</tspan></text></g>
<g id="n-apps" class="n"><rect class="cb" x="4811" y="800" width="139" height="48"/><text><tspan x="4880.5" y="821">anterior/posterior</tspan><tspan x="4880.5" y="836">pattern specification</tspan></text></g>
<g id="n-ssp" class="n"><rect class="cb" x="5025" y="800" width="150" height="48"/><text><tspan x="5100" y="821">smoothened signaling</tspan><tspan x="5100" y="836">pathway</tspan></text></g>
<g id="n-ntf" class="n"><rect class="cb" x="1961" y="897" width="80" height="49"/><text><tspan x="2001" y="918.5">neural tube</tspan><tspan x="2001" y="933.5">formation</tspan></text></g>
<g id="n-ected" class="n"><rect class="cb" x="2825" y="897" width="163" height="49"/><text><tspan x="2906.5" y="918.5">embryonic camera-type</tspan><tspan x="2906.5" y="933.5">eye development</tspan></text></g>
<g id="n-ecsm" class="n"><rect class="w" x="3215" y="897" width="167" height="49"/><text><tspan x="3298.5" y="918.5">embryonic cranial</tspan><tspan x="3298.5" y="933.5">skeleton morphogenesis</tspan></text></g>
<g id="n-cnsnd" class="n"><rect class="cb" x="4199" y="897" width="106" height="50"/><text><tspan x="4252" y="911.5">central nervous</tspan><tspan x="4252" y="926.5">system neuron</tspan><tspan x="4252" y="941.5">differentiation</tspan></text></g>
<g id="n-scdvp" class="n"><rect class="w" x="4633" y="897" width="95" height="50"/><text><tspan x="4680.5" y="911.5">spinal cord</tspan><tspan x="4680.5" y="926.5">dorsal/ventral</tspan><tspan x="4680.5" y="941.5">patterning</tspan></text></g>
<g id="n-dvntp" class="n"><rect class="cb" x="4753" y="897" width="95" height="50"/><text><tspan x="4800.5" y="911.5">dorsal/ventral</tspan><tspan x="4800.5" y="926.5">neural tube</tspan><tspan x="4800.5" y="941.5">patterning</tspan></text></g>
<g id="n-rssp" class="n"><rect class="cb" x="5139" y="897" width="149" height="50"/><text><tspan x="5213.5" y="911.5">regulation of</tspan><tspan x="5213.5" y="926.5">smoothened signaling</tspan><tspan x="5213.5" y="941.5">pathway</tspan></text></g>
<g id="n-tubeclosure" class="n"><rect class="w" x="1683" y="1011" width="86" height="48"/><text x="1726" y="1039.5">tube closure</text></g>
<g id="n-pntf" class="n"><rect class="w" x="1873" y="1011" width="102" height="48"/><text><tspan x="1924" y="1032">primary neural</tspan><tspan x="1924" y="1047">tube formation</tspan></text></g>
<g id="n-encm" class="n"><rect class="cb" x="2681" y="1011" width="168" height="48"/><text><tspan x="2765" y="1032">embryonic neurocranium</tspan><tspan x="2765" y="1047">morphogenesis</tspan></text></g>
<g id="n-sspvsc" class="n"><rect class="w" x="4718" y="1004" width="150" height="63"/><text><tspan x="4793" y="1017.5">smoothened signaling</tspan><tspan x="4793" y="1032.5">pathway involved</tspan><tspan x="4793" y="1047.5">in ventral spinal</tspan><tspan x="4793" y="1062.5">cord patterning</tspan></text></g>
<g id="n-nrssp" class="n"><rect class="cb" x="4893" y="1010" width="134" height="50"/><text><tspan x="4960" y="1024.5">negative regulation</tspan><tspan x="4960" y="1039.5">of smoothened</tspan><tspan x="4960" y="1054.5">signaling pathway</tspan></text></g>
<g id="n-sspdv" class="n"><rect class="cb" x="5052" y="996" width="150" height="79"/><text><tspan x="5127" y="1010">smoothened signaling</tspan><tspan x="5127" y="1025">pathway involved</tspan><tspan x="5127" y="1040">in dorsal/ventral</tspan><tspan x="5127" y="1055">neural tube</tspan><tspan x="5127" y="1070">patterning</tspan></text></g>
<g id="n-ntc" class="n"><rect class="cb" x="1785" y="1146" width="81" height="48"/><text><tspan x="1825.5" y="1167">neural tube</tspan><tspan x="1825.5" y="1182">closure</tspan></text></g>
<g id="n-nrsspvsc" class="n"><rect class="cb" x="4727" y="1123" width="133" height="94"/><text><tspan x="4793.5" y="1137">negative regulation</tspan><tspan x="4793.5" y="1152">of smoothened</tspan><tspan x="4793.5" y="1167">signaling pathway</tspan><tspan x="4793.5" y="1182">involved in</tspan><tspan x="4793.5" y="1197">ventral spinal</tspan><tspan x="4793.5" y="1212">cord patterning</tspan></text></g>
<g id="n-rsspdv" class="n"><rect class="w" x="5108" y="1123" width="149" height="94"/><text><tspan x="5182.5" y="1137">regulation of</tspan><tspan x="5182.5" y="1152">smoothened signaling</tspan><tspan x="5182.5" y="1167">pathway involved</tspan><tspan x="5182.5" y="1182">in dorsal/ventral</tspan><tspan x="5182.5" y="1197">neural tube</tspan><tspan x="5182.5" y="1212">patterning</tspan></text></g>
<g id="n-nrsspdv" class="n"><rect class="cb" x="5003" y="1265" width="133" height="108"/><text><tspan x="5069.5" y="1278.5">negative regulation</tspan><tspan x="5069.5" y="1293.5">of smoothened</tspan><tspan x="5069.5" y="1308.5">signaling pathway</tspan><tspan x="5069.5" y="1323.5">involved in</tspan><tspan x="5069.5" y="1338.5">dorsal/ventral</tspan><tspan x="5069.5" y="1353.5">neural tube</tspan><tspan x="5069.5" y="1368.5">patterning</tspan></text></g>
</svg>
